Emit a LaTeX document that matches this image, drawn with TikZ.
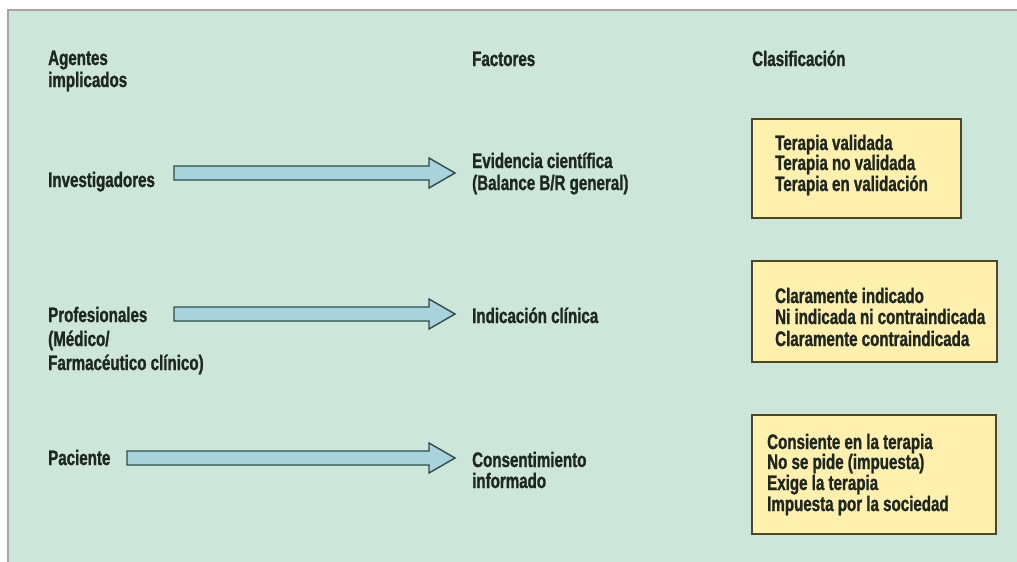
\documentclass[tikz,border=0pt]{standalone}
\usepackage{fontspec}
\setmainfont{Liberation Sans}[FakeStretch=0.72, BoldFeatures={FakeBold=1.2}]
\usetikzlibrary{calc}
\definecolor{bgc}{HTML}{CCE7D9}
\definecolor{arrfill}{HTML}{A8D2DC}
\definecolor{arrline}{HTML}{2E4B48}
\definecolor{boxfill}{HTML}{FFF0AE}
\definecolor{boxline}{HTML}{4A4630}
\definecolor{txt}{HTML}{1E2820}
\tikzset{
  lbl/.style={anchor=base west, inner sep=0pt, align=left, text=txt,
    font=\fontsize{21}{21}\selectfont\bfseries},
  clsbox/.style={draw=boxline, fill=boxfill, line width=1.6pt},
  arr/.style={draw=arrline, fill=arrfill, line width=1.4pt, line join=miter},
}
\newcommand\blockarrow[2]{%
  \path[arr] let \p1=(#1), \p2=(#2) in
    (\x1,\y1-7pt) -- (\x2-26pt,\y1-7pt) -- (\x2-26pt,\y1-15pt) -- (\x2,\y1)
    -- (\x2-26pt,\y1+15pt) -- (\x2-26pt,\y1+7pt) -- (\x1,\y1+7pt) -- cycle;}
\begin{document}
\begin{tikzpicture}[x=1pt,y=-1pt]
\useasboundingbox (0,0) rectangle (1017,562);
\fill[white] (0,0) rectangle (1017,562);
\fill[bgc] (8,10) rectangle (1017,562);
\draw[gray!70, line width=1.5pt] (8,562) -- (8,10) -- (1017,10);
% headers
\node[lbl] (hA1) at (48,65) {Agentes};
\node[lbl] (hA2) at (48,87) {implicados};
\node[lbl] (hF) at (472,66) {Factores};
\node[lbl] (hC) at (752,66) {Clasificación};
% agents
\node[lbl] (inv) at (48,187) {Investigadores};
\node[lbl] (pro1) at (48,322) {Profesionales};
\node[lbl] (pro2) at (48,346) {(Médico/};
\node[lbl] (pro3) at (48,370) {Farmacéutico clínico)};
\node[lbl] (pac) at (48,465) {Paciente};
% factors
\node[lbl] (evi1) at (472,168) {Evidencia científica};
\node[lbl] (evi2) at (472,190) {(Balance B/R general)};
\node[lbl] (ind) at (472,323) {Indicación clínica};
\node[lbl] (con1) at (472,467) {Consentimiento};
\node[lbl] (con2) at (472,488) {informado};
% arrows
\coordinate (s1) at (174,173); \coordinate (e1) at (455,173);
\coordinate (s2) at (174,314); \coordinate (e2) at (455,314);
\coordinate (s3) at (127,458); \coordinate (e3) at (455,458);
\blockarrow{s1}{e1}
\blockarrow{s2}{e2}
\blockarrow{s3}{e3}
% boxes
\draw[clsbox] (752,119) rectangle (961,218);
\node[lbl] (c11) at (775,150) {Terapia validada};
\node[lbl] (c12) at (775,170) {Terapia no validada};
\node[lbl] (c13) at (775,191) {Terapia en validación};
\draw[clsbox] (752,261) rectangle (997,362);
\node[lbl] (c21) at (775,303) {Claramente indicado};
\node[lbl] (c22) at (775,324) {Ni indicada ni contraindicada};
\node[lbl] (c23) at (775,346) {Claramente contraindicada};
\draw[clsbox] (752,415) rectangle (996,534);
\node[lbl] (c31) at (767,449) {Consiente en la terapia};
\node[lbl] (c32) at (767,469) {No se pide (impuesta)};
\node[lbl] (c33) at (767,490) {Exige la terapia};
\node[lbl] (c34) at (767,511) {Impuesta por la sociedad};
\end{tikzpicture}
\end{document}
